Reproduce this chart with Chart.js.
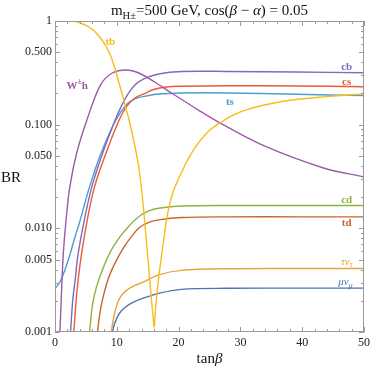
<!DOCTYPE html>
<html lang="en">
  <head>
    <meta charset="UTF-8" />
    <title>BR of charged Higgs</title>
    <script src="https://cdn.jsdelivr.net/npm/chart.js@4/dist/chart.umd.min.js"></script>
    <style>
      html, body { margin: 0; padding: 0; background: #fff; }
    </style>
  </head>
  <body>
    <canvas id="grafica" width="374" height="368"></canvas>
    <script>
      // tanβ values and branching ratios
      var tbX = [0, 1.6, 3.19, 4.31, 5.32, 6.15, 6.92, 7.59, 8.26, 8.95, 9.58, 10.22, 10.91, 11.45, 11.98, 12.51, 13.05, 13.58, 13.98, 14.38, 14.7, 15.06, 15.38, 15.65, 15.89, 16.05,
                 16.29, 16.53, 16.85, 17.17, 17.57, 18.1, 18.61, 19.17, 19.97, 20.77, 21.57, 22.52, 23.64, 25.08, 26.68, 28.75, 31.15, 33.87, 36.74, 39.14, 42.33, 45.53, 47.92, 50];
      var tbY = [1, 1, 0.993, 0.946, 0.889, 0.819, 0.738, 0.656, 0.57, 0.47, 0.368, 0.27, 0.193, 0.1465, 0.111, 0.0813, 0.057, 0.0382, 0.0245, 0.0144, 0.00864, 0.00496, 0.00298, 0.00191, 0.00137, 0.00112,
                 0.00175, 0.00244, 0.00363, 0.00507, 0.00755, 0.0126, 0.0176, 0.023, 0.0299, 0.0378, 0.0467, 0.0583, 0.072, 0.0889, 0.1038, 0.1227, 0.1402, 0.1549, 0.1675, 0.175, 0.1828, 0.19, 0.1943, 0.1977];

      var whX = [0.8, 1.07, 1.33, 1.76, 2.4, 3.51, 5.27, 7.35, 9.27, 11.5, 13.58, 16.13, 18.85, 23.16, 26.68, 33.87, 43.45, 50];
      var whY = [0.001, 0.00255, 0.00554, 0.0115, 0.0251, 0.0533, 0.116, 0.241, 0.315, 0.337, 0.315, 0.258, 0.202, 0.139, 0.104, 0.0623, 0.0382, 0.0313];

      var cbX = [2.51, 2.88, 3.27, 3.72, 4.68, 5.96, 7.72, 9.74, 11.34, 12.78, 14.38, 16.77, 20.45, 27.96, 39.1, 50];
      var cbY = [0.001, 0.00204, 0.00318, 0.00554, 0.0115, 0.0251, 0.0533, 0.111, 0.177, 0.236, 0.276, 0.308, 0.326, 0.326, 0.322, 0.317];

      var csX = [3.04, 3.43, 3.75, 4.27, 5.16, 6.39, 8.26, 10.38, 11.66, 12.94, 14.38, 15.97, 18.05, 20.45, 27.96, 39.1, 50];
      var csY = [0.001, 0.00204, 0.00318, 0.00554, 0.0115, 0.0251, 0.0533, 0.111, 0.1515, 0.181, 0.198, 0.2185, 0.231, 0.2346, 0.2377, 0.2364, 0.2325];

      var tsX = [0, 0.8, 1.6, 2.4, 3.19, 3.99, 5.59, 7.46, 9.86, 11.66, 12.94, 14.38, 16.77, 20.45, 27.96, 39.1, 50];
      var tsY = [0.00262, 0.00304, 0.00397, 0.00554, 0.00808, 0.0115, 0.0251, 0.0533, 0.111, 0.1584, 0.177, 0.187, 0.1978, 0.2022, 0.2022, 0.1964, 0.1905];

      var cdX = [5.59, 6.07, 6.71, 7.67, 8.95, 10.38, 11.98, 13.58, 15.18, 16.77, 20.45, 27.96, 40, 50];
      var cdY = [0.001, 0.00183, 0.00272, 0.00397, 0.00592, 0.00808, 0.01054, 0.01302, 0.01472, 0.01563, 0.01644, 0.01663, 0.0166, 0.0166];

      var tdX = [6.87, 7.35, 7.99, 8.79, 9.9, 11.18, 12.46, 13.58, 15.18, 16.77, 20.45, 27.96, 40, 50];
      var tdY = [0.001, 0.00163, 0.00244, 0.00348, 0.00485, 0.00662, 0.00845, 0.01009, 0.0114, 0.01207, 0.0127, 0.0129, 0.0129, 0.0129];

      var tauX = [9.1, 9.58, 10.14, 10.7, 11.66, 12.78, 14.38, 16.77, 20.45, 27.96, 40, 50];
      var tauY = [0.001, 0.00146, 0.00191, 0.00223, 0.00255, 0.00279, 0.00304, 0.00356, 0.00393, 0.00408, 0.0041, 0.0041];

      var muX = [9.27, 9.74, 10.38, 11.45, 12.78, 14.38, 16.77, 20.45, 27.96, 40, 50];
      var muY = [0.001, 0.00125, 0.0015, 0.00175, 0.00195, 0.00213, 0.00236, 0.00258, 0.00264, 0.00265, 0.00265];

      var xTicks = [0, 10, 20, 30, 40, 50];
      var yTicks = [0.001, 0.005, 0.01, 0.05, 0.1, 0.5, 1];

      var serif = '"Liberation Serif", "DejaVu Serif", serif';

      // curve data, colour and where its label sits (tanβ, BR)
      var curvas = [
        { x: tbX, y: tbY, color: "#f6bd1d", tag: [{ t: "tb", b: 1 }], at: [8.95, 0.625] },
        { x: whX, y: whY, color: "#9c5aa8", tag: [{ t: "W", b: 1 }, { t: "±", sup: 1, b: 1 }, { t: "h", b: 1 }], at: [3.6, 0.235] },
        { x: cbX, y: cbY, color: "#7d6bbd", tag: [{ t: "cb", b: 1 }], at: [47.2, 0.36] },
        { x: csX, y: csY, color: "#ea5a37", tag: [{ t: "cs", b: 1 }], at: [47.2, 0.256] },
        { x: tsX, y: tsY, color: "#4f9cd2", tag: [{ t: "ts", b: 1 }], at: [28.3, 0.166] },
        { x: cdX, y: cdY, color: "#8db53c", tag: [{ t: "cd", b: 1 }], at: [47.2, 0.0186] },
        { x: tdX, y: tdY, color: "#c7652b", tag: [{ t: "td", b: 1 }], at: [47.2, 0.0113] },
        { x: tauX, y: tauY, color: "#eba23a", tag: [{ t: "τν", i: 1 }, { t: "τ", i: 1, sub: 1 }], at: [47.2, 0.0047] },
        { x: muX, y: muY, color: "#4b73b8", tag: [{ t: "μν", i: 1 }, { t: "μ", i: 1, sub: 1 }], at: [47.0, 0.003] }
      ];

      function aPuntos(xs, ys) {
        var data = [];
        for (var i = 0; i < xs.length; i++) data.push({ x: xs[i], y: ys[i] });
        return data;
      }

      function fuente(p, size) {
        var sz = p.sub || p.sup ? size * 0.7 : size;
        return (p.i ? "italic " : "") + (p.b ? "bold " : "") + sz + "px " + serif;
      }

      // draws a run of text pieces (italic, sub, sup) starting at x
      function texto(ctx, partes, x, y, size, align) {
        var w = 0;
        partes.forEach(function (p) { ctx.font = fuente(p, size); w += ctx.measureText(p.t).width; });
        var cx = align === "center" ? x - w / 2 : x;
        partes.forEach(function (p) {
          ctx.font = fuente(p, size);
          var dy = p.sub ? size * 0.28 : p.sup ? -size * 0.38 : 0;
          ctx.fillText(p.t, cx, y + dy);
          cx += ctx.measureText(p.t).width;
        });
      }

      var marco = {
        id: "marco",
        afterDraw: function (chart) {
          var ctx = chart.ctx, a = chart.chartArea;
          var sx = chart.scales.x, sy = chart.scales.y;
          ctx.save();
          ctx.strokeStyle = "#9a9a9a";
          ctx.lineWidth = 1;
          ctx.strokeRect(a.left + 0.5, a.top + 0.5, a.right - a.left - 1, a.bottom - a.top - 1);
          ctx.beginPath();
          for (var v = 0; v <= 50; v += 2) {
            var px = Math.round(sx.getPixelForValue(v)) + 0.5;
            var len = v % 10 === 0 ? 5 : 3;
            ctx.moveTo(px, a.bottom); ctx.lineTo(px, a.bottom - len);
            ctx.moveTo(px, a.top); ctx.lineTo(px, a.top + len);
          }
          for (var e = -3; e < 0; e++) {
            for (var m = 1; m <= 9; m++) {
              var val = m * Math.pow(10, e);
              var py = Math.round(sy.getPixelForValue(val)) + 0.5;
              var l = (m === 1 || m === 5) ? 5 : 3;
              ctx.moveTo(a.left, py); ctx.lineTo(a.left + l, py);
              ctx.moveTo(a.right, py); ctx.lineTo(a.right - l, py);
            }
          }
          ctx.stroke();

          ctx.fillStyle = "#111";
          ctx.textBaseline = "alphabetic";
          ctx.textAlign = "left";
          texto(ctx, [{ t: "m" }, { t: "H±", sub: 1 }, { t: "=500 GeV, cos(" }, { t: "β", i: 1 }, { t: " − " }, { t: "α", i: 1 }, { t: ") = 0.05" }],
            (a.left + a.right) / 2, 15, 15, "center");
          texto(ctx, [{ t: "BR" }], 1, 182, 15, "left");
          texto(ctx, [{ t: "tan" }, { t: "β", i: 1 }], (a.left + a.right) / 2, 363, 15, "center");

          ctx.textBaseline = "middle";
          curvas.forEach(function (c) {
            ctx.fillStyle = c.color;
            texto(ctx, c.tag, sx.getPixelForValue(c.at[0]), sy.getPixelForValue(c.at[1]), 11, "center");
          });
          ctx.restore();
        }
      };

      var grafica = new Chart(document.getElementById("grafica"), {
        type: "line",
        data: {
          datasets: curvas.map(function (c) {
            return {
              data: aPuntos(c.x, c.y),
              borderColor: c.color,
              borderWidth: 1.4,
              pointRadius: 0,
              fill: false,
              tension: 0.35
            };
          })
        },
        options: {
          responsive: false,
          animation: false,
          devicePixelRatio: 1,
          layout: { padding: { top: 21, right: 6, left: 0, bottom: 0 } },
          plugins: { legend: { display: false }, tooltip: { enabled: false } },
          scales: {
            x: {
              type: "linear",
              min: 0,
              max: 50,
              afterBuildTicks: function (s) { s.ticks = xTicks.map(function (v) { return { value: v }; }); },
              afterFit: function (s) { s.height = 36; },
              grid: { display: false, drawTicks: false },
              border: { display: false },
              ticks: { color: "#222", font: { family: serif, size: 12 }, padding: 4, maxRotation: 0 }
            },
            y: {
              type: "logarithmic",
              min: 0.001,
              max: 1,
              afterBuildTicks: function (s) { s.ticks = yTicks.map(function (v) { return { value: v }; }); },
              afterFit: function (s) { s.width = 55; },
              grid: { display: false, drawTicks: false },
              border: { display: false },
              ticks: {
                color: "#222",
                font: { family: serif, size: 12 },
                padding: 3,
                autoSkip: false,
                callback: function (v) { return v === 1 ? "1" : v.toFixed(3); }
              }
            }
          }
        },
        plugins: [marco]
      });
    </script>
  </body>
</html>
